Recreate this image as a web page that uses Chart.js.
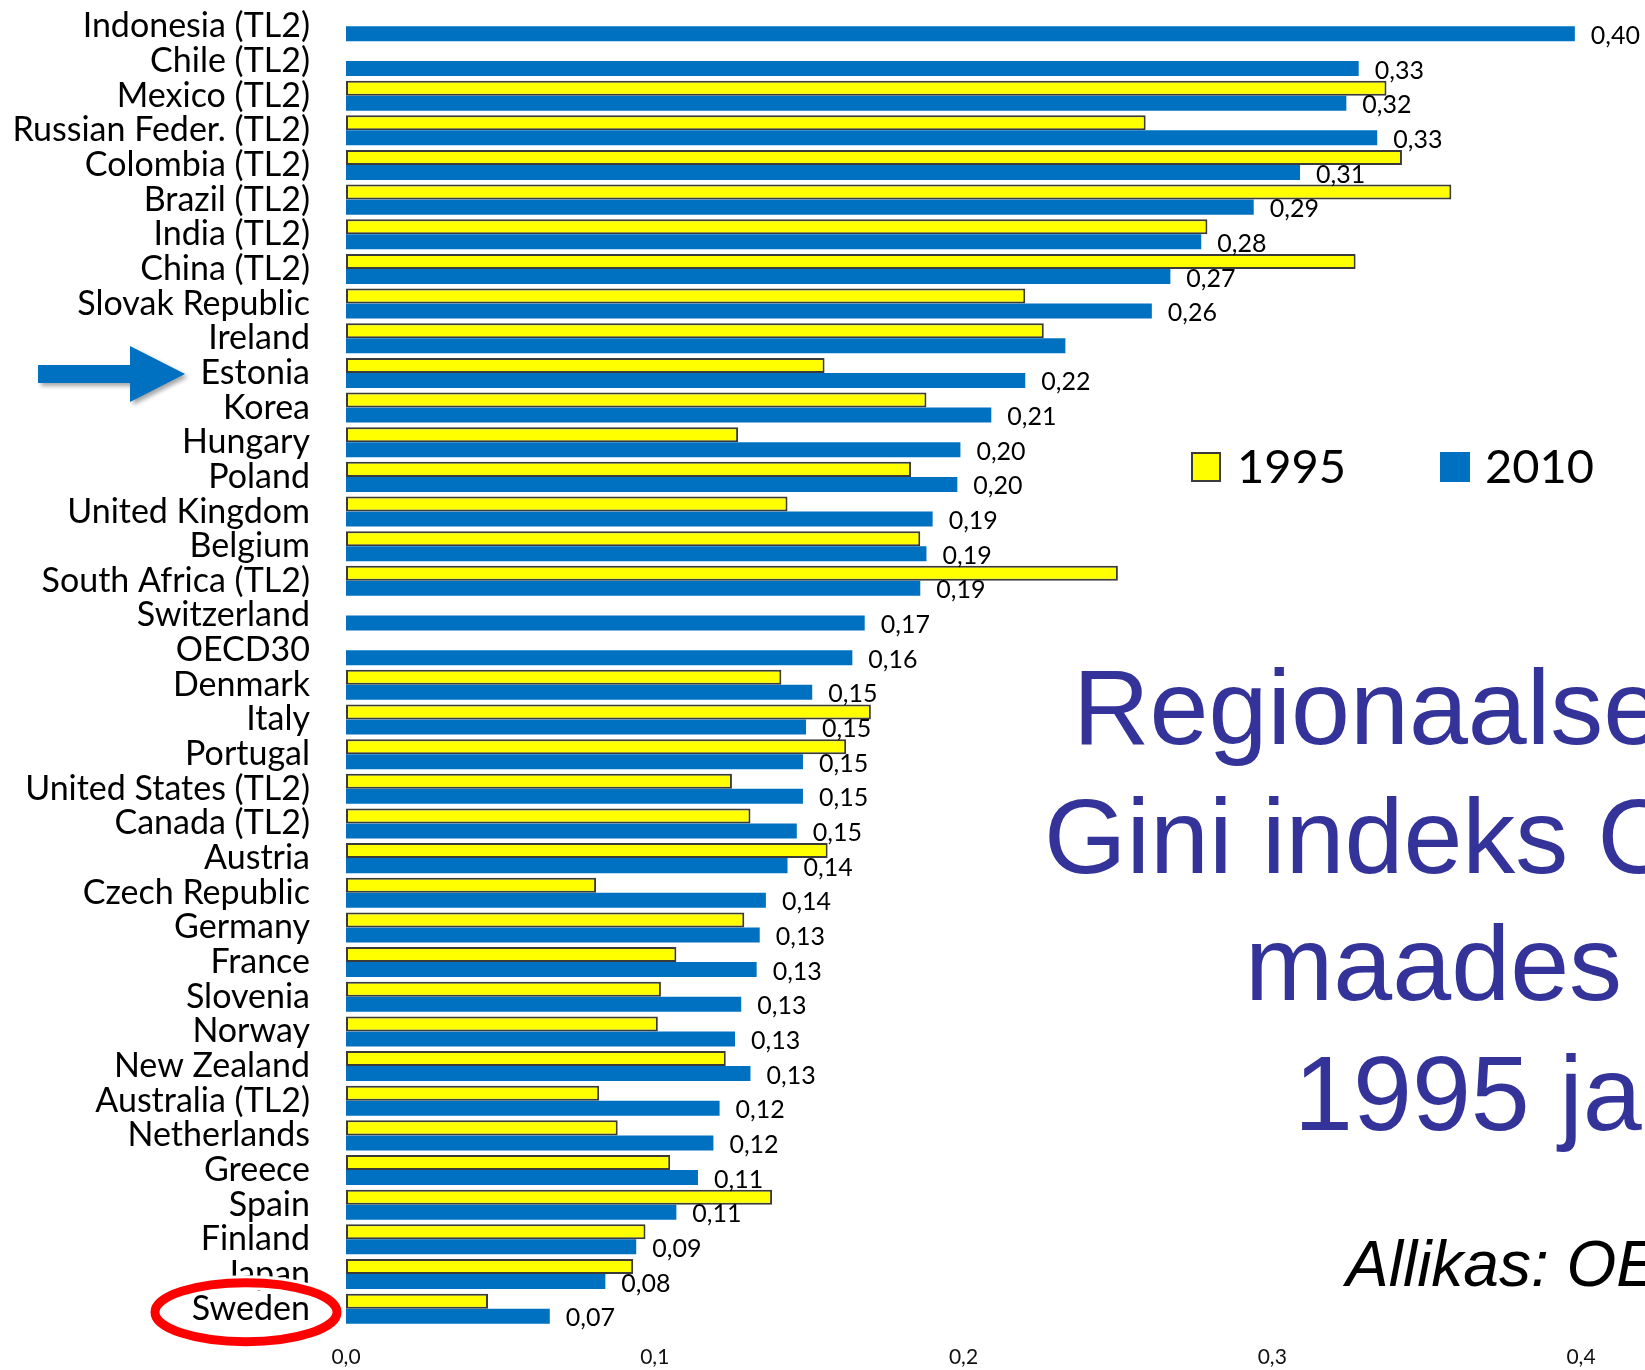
<!DOCTYPE html>
<html>
<head>
<meta charset="utf-8">
<script src="https://cdn.jsdelivr.net/npm/chart.js@4.4.0/dist/chart.umd.min.js"></script>
<style>
  html, body { margin: 0; padding: 0; background: #fff; }
  #wrap { position: relative; width: 1645px; height: 1370px; overflow: hidden; }
  #chart { position: absolute; left: 0; top: 0; }
  .title { position: absolute; font-family: "Liberation Sans", Arial, sans-serif; color: #333399;
           font-size: 106px; line-height: 1; white-space: nowrap; }
  .source { position: absolute; font-family: "Liberation Sans", Arial, sans-serif; font-style: italic;
            font-size: 64px; line-height: 1; white-space: nowrap; color: #000; }
</style>
</head>
<body>
<div id="wrap">
  <canvas id="chart" width="1645" height="1370"></canvas>
  <div class="title" style="left:1073px; top:654px;">Regionaalse</div>
  <div class="title" style="left:1044px; top:783px;">Gini indeks O</div>
  <div class="title" style="left:1245px; top:910px;">maades</div>
  <div class="title" style="left:1294px; top:1040px;">1995 ja</div>
  <div class="source" style="left:1346px; top:1232px;">Allikas: OE</div>
</div>
<script>
const regions = [
  'Indonesia (TL2)', 'Chile (TL2)', 'Mexico (TL2)', 'Russian Feder. (TL2)', 'Colombia (TL2)',
  'Brazil (TL2)', 'India (TL2)', 'China (TL2)', 'Slovak Republic', 'Ireland', 'Estonia', 'Korea',
  'Hungary', 'Poland', 'United Kingdom', 'Belgium', 'South Africa (TL2)', 'Switzerland', 'OECD30',
  'Denmark', 'Italy', 'Portugal', 'United States (TL2)', 'Canada (TL2)', 'Austria', 'Czech Republic',
  'Germany', 'France', 'Slovenia', 'Norway', 'New Zealand', 'Australia (TL2)', 'Netherlands',
  'Greece', 'Spain', 'Finland', 'Japan', 'Sweden'
];

// regional Gini index, 1995
const gini1995 = [
  null, null, 0.337, 0.259, 0.342,
  0.358, 0.279, 0.327, 0.220, 0.226, 0.155, 0.188,
  0.127, 0.183, 0.143, 0.186, 0.250, null, null,
  0.141, 0.170, 0.162, 0.125, 0.131, 0.156, 0.081,
  0.129, 0.107, 0.102, 0.101, 0.123, 0.082, 0.088,
  0.105, 0.138, 0.097, 0.093, 0.046
];

// regional Gini index, 2010
const gini2010 = [
  0.398, 0.328, 0.324, 0.334, 0.309,
  0.294, 0.277, 0.267, 0.261, 0.233, 0.220, 0.209,
  0.199, 0.198, 0.190, 0.188, 0.186, 0.168, 0.164,
  0.151, 0.149, 0.148, 0.148, 0.146, 0.143, 0.136,
  0.134, 0.133, 0.128, 0.126, 0.131, 0.121, 0.119,
  0.114, 0.107, 0.094, 0.084, 0.066
];

const xTicks = [0, 0.1, 0.2, 0.3, 0.4];
const seriesNames = ['1995', '2010'];
const unlabelled = ['Ireland'];
const arrowAt = 'Estonia';
const circledAt = 'Sweden';

const comma = (v, d) => v.toFixed(d).replace('.', ',');

// value labels at the end of the 2010 bars
const valueLabels = {
  id: 'valueLabels',
  afterDatasetsDraw(chart) {
    const ctx = chart.ctx;
    const meta = chart.getDatasetMeta(1);
    ctx.save();
    ctx.font = '25px Lato';
    ctx.fillStyle = '#000';
    ctx.textBaseline = 'middle';
    meta.data.forEach((bar, i) => {
      if (unlabelled.includes(regions[i])) return;
      ctx.fillText(comma(gini2010[i], 2), bar.x + 16, bar.y + 2);
    });
    ctx.restore();
  }
};

// legend boxes drawn inside the plot
const legendBoxes = {
  id: 'legendBoxes',
  afterDraw(chart) {
    const ctx = chart.ctx;
    const spots = [{ x: 1191, text: 1237 }, { x: 1440, text: 1485 }];
    ctx.save();
    ctx.font = '47px Lato';
    ctx.textBaseline = 'alphabetic';
    chart.data.datasets.forEach((ds, i) => {
      const s = spots[i];
      ctx.fillStyle = ds.backgroundColor;
      ctx.fillRect(s.x, 452, 30, 30);
      if (ds.borderWidth) {
        ctx.strokeStyle = ds.borderColor;
        ctx.lineWidth = 2;
        ctx.strokeRect(s.x + 1, 453, 28, 28);
      }
      ctx.fillStyle = '#000';
      ctx.fillText(ds.label, s.text, 483);
    });
    ctx.restore();
  }
};

// arrow pointing at Estonia, ring around Sweden
const marks = {
  id: 'marks',
  afterDraw(chart) {
    const ctx = chart.ctx;
    const y = chart.scales.y;
    const ya = y.getPixelForValue(regions.indexOf(arrowAt)) + 1;
    ctx.save();
    ctx.shadowColor = 'rgba(0,0,0,0.35)';
    ctx.shadowOffsetX = 3;
    ctx.shadowOffsetY = 3;
    ctx.shadowBlur = 4;
    ctx.fillStyle = '#0070c0';
    ctx.beginPath();
    ctx.moveTo(38, ya - 9);
    ctx.lineTo(130, ya - 9);
    ctx.lineTo(130, ya - 28);
    ctx.lineTo(185, ya);
    ctx.lineTo(130, ya + 28);
    ctx.lineTo(130, ya + 9);
    ctx.lineTo(38, ya + 9);
    ctx.closePath();
    ctx.fill();
    ctx.restore();

    const ys = y.getPixelForValue(regions.indexOf(circledAt)) + 3.5;
    ctx.save();
    ctx.beginPath();
    ctx.ellipse(246, ys, 91, 29.5, 0, 0, Math.PI * 2);
    ctx.strokeStyle = '#fff';
    ctx.lineWidth = 15;
    ctx.stroke();
    ctx.strokeStyle = '#ff0000';
    ctx.lineWidth = 9;
    ctx.stroke();
    ctx.restore();
  }
};

new Chart(document.getElementById('chart'), {
  type: 'bar',
  data: {
    labels: regions,
    datasets: [
      { label: seriesNames[0], data: gini1995, backgroundColor: '#ffff00', borderColor: '#3a3a3a',
        borderWidth: 2, borderSkipped: false },
      { label: seriesNames[1], data: gini2010, backgroundColor: '#0070c0', borderWidth: 0 }
    ]
  },
  options: {
    indexAxis: 'y',
    responsive: false,
    animation: false,
    datasets: { bar: { categoryPercentage: 0.866, barPercentage: 1 } },
    layout: { padding: { top: 9, right: 64, left: 0, bottom: 0 } },
    plugins: { legend: { display: false }, tooltip: { enabled: false } },
    scales: {
      x: {
        min: xTicks[0],
        max: xTicks[xTicks.length - 1],
        afterBuildTicks: s => { s.ticks = xTicks.map(v => ({ value: v })); },
        ticks: { callback: v => comma(v, 1), font: { family: 'Lato', size: 21 }, color: '#111', padding: 19 },
        grid: { display: false, drawTicks: false },
        border: { display: false },
        afterFit: s => { s.height = 44; s.paddingLeft = 0; s.paddingRight = 0; }
      },
      y: {
        ticks: { autoSkip: false, font: { family: 'Lato', size: 34 }, color: '#000', padding: 36 },
        grid: { display: false, drawTicks: false },
        border: { display: false },
        afterFit: s => { s.width = 346; s.paddingTop = 0; s.paddingBottom = 0; }
      }
    }
  },
  plugins: [valueLabels, legendBoxes, marks]
});
</script>
</body>
</html>
